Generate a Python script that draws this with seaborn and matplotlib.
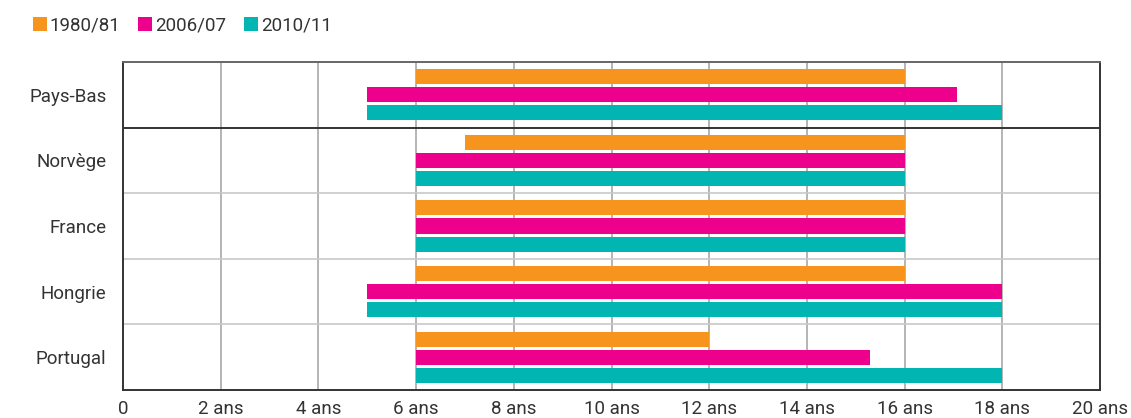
import matplotlib
matplotlib.use("Agg")
import matplotlib.pyplot as plt
import seaborn as sns
import pandas as pd

countries = ["Pays-Bas", "Norvège", "France", "Hongrie", "Portugal"]
periods = ["1980/81", "2006/07", "2010/11"]
start_1980 = [6, 7, 6, 6, 6]
end_1980 = [16, 16, 16, 16, 12]
start_2006 = [5, 6, 6, 5, 6]
end_2006 = [17.07, 16, 16, 18, 15.3]
start_2010 = [5, 6, 6, 5, 6]
end_2010 = [18, 16, 16, 18, 18]
x_ticks = [0, 2, 4, 6, 8, 10, 12, 14, 16, 18, 20]
x_labels = ["0", "2 ans", "4 ans", "6 ans", "8 ans", "10 ans", "12 ans",
            "14 ans", "16 ans", "18 ans", "20 ans"]
colors = ["#F7941D", "#EC008C", "#00B5B2"]

starts = [start_1980, start_2006, start_2010]
ends = [end_1980, end_2006, end_2010]
rows = []
for p, s, e in zip(periods, starts, ends):
    for c, a, b in zip(countries, s, e):
        rows.append({"country": c, "period": p, "start": a, "end": b})
df = pd.DataFrame(rows)

sns.set_theme(style="white")
plt.rcParams["font.family"] = ["Roboto", "DejaVu Sans"]
text_col = "#333333"
fs = 13.5

fig = plt.figure(figsize=(11.31, 4.18), dpi=100)
ax = fig.add_axes([123/1131, 1-390/418, (1100-123)/1131, (390-62)/418])

sns.barplot(data=df, x="end", y="country", hue="period", order=countries,
            hue_order=periods, palette=colors, width=0.825, gap=0.165,
            orient="h", ax=ax, legend=False, saturation=1, linewidth=0)

for cont, s, e in zip(ax.containers, starts, ends):
    for bar, a, b in zip(cont, s, e):
        bar.set_x(a)
        bar.set_width(b - a)

ax.set_xlim(0, 20)
ax.set_ylim(len(countries) - 0.5, -0.5)
ax.set_xticks(x_ticks)
ax.set_xticklabels(x_labels, fontsize=fs, color=text_col)
ax.tick_params(axis="y", labelsize=fs, labelcolor=text_col, length=0, pad=12)
ax.tick_params(axis="x", length=0, pad=7)
ax.set_xlabel("")
ax.set_ylabel("")

for xv in x_ticks[1:-1]:
    ax.axvline(xv, color="#a8a8a8", lw=1.2, zorder=0)
for i, yv in enumerate([0.5, 1.5, 2.5, 3.5]):
    ax.axhline(yv, color="#333333" if i == 0 else "#c8c8c8",
               lw=1.4 if i == 0 else 1.2, zorder=0 if i else 3)

for side in ["left", "bottom", "right"]:
    ax.spines[side].set_color("#333333")
    ax.spines[side].set_linewidth(1.4)
ax.spines["top"].set_color("#666666")
ax.spines["top"].set_linewidth(1.4)

from matplotlib.patches import Patch
handles = [Patch(facecolor=c, edgecolor="none") for c in colors]
fig.legend(handles, periods, loc="upper left", bbox_to_anchor=(0.014, 1.0),
           ncol=3, frameon=False, fontsize=fs, handlelength=0.75,
           handleheight=0.75, handletextpad=0.15, columnspacing=0.95,
           labelcolor=text_col)

fig.savefig("out.png", dpi=100)
